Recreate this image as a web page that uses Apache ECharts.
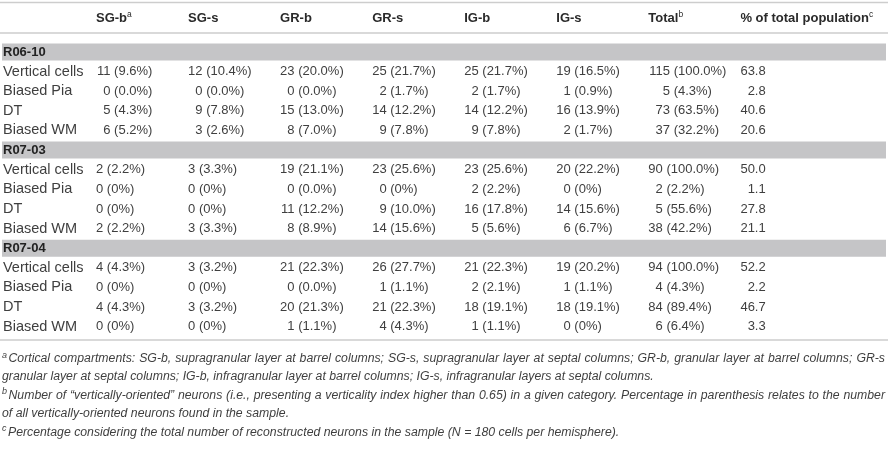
<!DOCTYPE html>
<html><head><meta charset="utf-8">
<script src="https://cdn.jsdelivr.net/npm/echarts@6/dist/echarts.min.js"></script>
<style>html,body{margin:0;padding:0;background:#fff}#c{width:888px;height:449px}</style>
</head><body><div id="c"></div>
<script>
// ---------- data ----------
const columns = ['SG-b', 'SG-s', 'GR-b', 'GR-s', 'IG-b', 'IG-s', 'Total', '% of total population'];
const columnNotes = ['a', '', '', '', '', '', 'b', 'c'];
const groups = ['R06-10', 'R07-03', 'R07-04'];
const rowLabels = ['Vertical cells', 'Biased Pia', 'DT', 'Biased WM'];

const counts_R06_10 = [
  [11, 12, 23, 25, 25, 19, 115],
  [0, 0, 0, 2, 2, 1, 5],
  [5, 9, 15, 14, 14, 16, 73],
  [6, 3, 8, 9, 9, 2, 37]
];
const shares_R06_10 = [
  ['9.6', '10.4', '20.0', '21.7', '21.7', '16.5', '100.0'],
  ['0.0', '0.0', '0.0', '1.7', '1.7', '0.9', '4.3'],
  ['4.3', '7.8', '13.0', '12.2', '12.2', '13.9', '63.5'],
  ['5.2', '2.6', '7.0', '7.8', '7.8', '1.7', '32.2']
];
const population_R06_10 = ['63.8', '2.8', '40.6', '20.6'];

const counts_R07_03 = [
  [2, 3, 19, 23, 23, 20, 90],
  [0, 0, 0, 0, 2, 0, 2],
  [0, 0, 11, 9, 16, 14, 5],
  [2, 3, 8, 14, 5, 6, 38]
];
const shares_R07_03 = [
  ['2.2', '3.3', '21.1', '25.6', '25.6', '22.2', '100.0'],
  ['0', '0', '0.0', '0', '2.2', '0', '2.2'],
  ['0', '0', '12.2', '10.0', '17.8', '15.6', '55.6'],
  ['2.2', '3.3', '8.9', '15.6', '5.6', '6.7', '42.2']
];
const population_R07_03 = ['50.0', '1.1', '27.8', '21.1'];

const counts_R07_04 = [
  [4, 3, 21, 26, 21, 19, 94],
  [0, 0, 0, 1, 2, 1, 4],
  [4, 3, 20, 21, 18, 18, 84],
  [0, 0, 1, 4, 1, 0, 6]
];
const shares_R07_04 = [
  ['4.3', '3.2', '22.3', '27.7', '22.3', '20.2', '100.0'],
  ['0', '0', '0.0', '1.1', '2.1', '1.1', '4.3'],
  ['4.3', '3.2', '21.3', '22.3', '19.1', '19.1', '89.4'],
  ['0', '0', '1.1', '4.3', '1.1', '0', '6.4']
];
const population_R07_04 = ['52.2', '2.2', '46.7', '3.3'];

const footnoteLines = [
  { sup: 'a', text: 'Cortical compartments: SG-b, supragranular layer at barrel columns; SG-s, supragranular layer at septal columns; GR-b, granular layer at barrel columns; GR-s', justify: true },
  { sup: '', text: 'granular layer at septal columns; IG-b, infragranular layer at barrel columns; IG-s, infragranular layers at septal columns.', justify: false },
  { sup: 'b', text: 'Number of \u201cvertically-oriented\u201d neurons (i.e., presenting a verticality index higher than 0.65) in a given category. Percentage in parenthesis relates to the number', justify: true },
  { sup: '', text: 'of all vertically-oriented neurons found in the sample.', justify: false },
  { sup: 'c', text: 'Percentage considering the total number of reconstructed neurons in the sample (N = 180 cells per hemisphere).', justify: false }
];

// ---------- styling ----------
const FONT = '"Liberation Sans", Arial, sans-serif';
const TXT = '#3f3f3f';
const NUM_SIZE = 13;
const LABEL_SIZE = 14.5;
const HEAD_SIZE = 13;
const BAND = '#c5c5c7';
const RULE = '#cdcdcd';

const canvas = document.createElement('canvas');
const ctx = canvas.getContext('2d');
function measure(text, size, style) {
  ctx.font = (style || '') + ' ' + size + 'px ' + FONT;
  return ctx.measureText(text).width;
}
const DIGIT_W = measure('0', NUM_SIZE);

// ---------- build table ----------
const groupData = [
  { name: groups[0], counts: counts_R06_10, shares: shares_R06_10, pop: population_R06_10 },
  { name: groups[1], counts: counts_R07_03, shares: shares_R07_03, pop: population_R07_03 },
  { name: groups[2], counts: counts_R07_04, shares: shares_R07_04, pop: population_R07_04 }
];
const yCats = [];
const cells = [];
groupData.forEach(g => {
  const bandRow = yCats.length;
  yCats.push('band|' + g.name);
  cells.push({ kind: 'band', col: 0, row: bandRow });
  const pads = columns.map((_, ci) => ci < 7
    ? Math.max.apply(null, g.counts.map(r => String(r[ci]).length))
    : Math.max.apply(null, g.pop.map(v => v.split('.')[0].length)));
  g.counts.forEach((r, ri) => {
    const row = yCats.length;
    yCats.push(g.name + '|' + rowLabels[ri]);
    r.forEach((cnt, ci) => cells.push({
      kind: 'cell', col: ci, row, lead: String(cnt), tail: ' (' + g.shares[ri][ci] + '%)', pad: pads[ci]
    }));
    const parts = g.pop[ri].split('.');
    cells.push({ kind: 'cell', col: 7, row, lead: parts[0], tail: '.' + parts[1], pad: pads[7] });
  });
});

const W = 888, H = 449;
const gridLeft = 95, colStep = 92.2;
const gridTop = 42.2, rowStep = 19.62;
const gridWidth = colStep * (columns.length - 1);
const gridHeight = rowStep * yCats.length;

function renderItem(params, api) {
  const c = cells[params.dataIndex];
  const p = api.coord([c.col, c.row]);
  if (c.kind === 'band') {
    return {
      type: 'rect',
      shape: { x: 2, y: p[1] - 8.5, width: api.getWidth() - 4, height: 17 },
      style: { fill: BAND }
    };
  }
  const anchor = p[0] + c.pad * DIGIT_W;
  const base = { fill: TXT, fontSize: NUM_SIZE, fontFamily: FONT, verticalAlign: 'middle' };
  return {
    type: 'group',
    children: [
      { type: 'text', x: anchor, y: p[1], style: Object.assign({ text: c.lead, align: 'right' }, base) },
      { type: 'text', x: anchor, y: p[1], style: Object.assign({ text: c.tail, align: 'left' }, base) }
    ]
  };
}

// ---------- footnotes ----------
const FN_SIZE = (function () {
  const w = measure(footnoteLines[0].text, 100, 'italic');
  return Math.max(10, Math.min(14, 100 * 866 / w));
})();
const fnY = [359, 377, 395.5, 414, 432.5];
const graphics = [
  { type: 'line', shape: { x1: 0, y1: 2.5, x2: W, y2: 2.5 }, style: { stroke: RULE, lineWidth: 1.5 } },
  { type: 'line', shape: { x1: 0, y1: 33, x2: W, y2: 33 }, style: { stroke: RULE, lineWidth: 1.5 } },
  { type: 'line', shape: { x1: 0, y1: 340, x2: W, y2: 340 }, style: { stroke: RULE, lineWidth: 1.5 } }
];
footnoteLines.forEach((ln, i) => {
  const y = fnY[i];
  let x = 2;
  if (ln.sup) {
    graphics.push({ type: 'text', x: x, y: y - 4, style: { text: ln.sup, fontSize: 9, fontStyle: 'italic', fontFamily: FONT, fill: TXT, verticalAlign: 'middle' } });
    x += measure(ln.sup, 9, 'italic') + 1.5;
  }
  const st = { fontSize: FN_SIZE, fontStyle: 'italic', fontFamily: FONT, fill: TXT, verticalAlign: 'middle' };
  if (ln.justify) {
    const words = ln.text.split(' ');
    const widths = words.map(w => measure(w, FN_SIZE, 'italic'));
    const total = widths.reduce((a, b) => a + b, 0);
    const space = measure(' ', FN_SIZE, 'italic');
    const gap = Math.max(space * 0.8, (W - 3 - x - total) / (words.length - 1));
    words.forEach((w, k) => {
      graphics.push({ type: 'text', x: x, y: y, style: Object.assign({ text: w }, st) });
      x += widths[k] + gap;
    });
  } else {
    graphics.push({ type: 'text', x: x, y: y, style: Object.assign({ text: ln.text }, st) });
  }
});

// ---------- chart ----------
const chart = echarts.init(document.getElementById('c'), null, { renderer: 'canvas' });
chart.setOption({
  animation: false,
  backgroundColor: '#fff',
  grid: { left: gridLeft, top: gridTop, width: gridWidth, height: gridHeight, containLabel: false },
  xAxis: {
    type: 'category',
    position: 'top',
    boundaryGap: false,
    data: columns,
    axisLine: { show: false },
    axisTick: { show: false },
    splitLine: { show: false },
    axisLabel: {
      interval: 0,
      align: 'left',
      verticalAlign: 'middle',
      margin: gridTop - 18,
      formatter: (v, i) => '{h|' + v + '}' + (columnNotes[i] ? '{s|' + columnNotes[i] + '}' : ''),
      rich: {
        h: { fontSize: HEAD_SIZE, fontWeight: 'bold', fontFamily: FONT, color: '#2a2a2a', lineHeight: 16 },
        s: { fontSize: 8.5, fontFamily: FONT, color: '#2a2a2a', verticalAlign: 'top', lineHeight: 16, padding: [0, 0, 6, 0] }
      }
    }
  },
  yAxis: {
    type: 'category',
    inverse: true,
    data: yCats,
    z: 10,
    axisLine: { show: false },
    axisTick: { show: false },
    splitLine: { show: false },
    axisLabel: {
      interval: 0,
      align: 'left',
      margin: gridLeft - 2,
      formatter: v => {
        const [a, b] = v.split('|');
        return a === 'band' ? '{b|' + b + '}' : '{n|' + b + '}';
      },
      rich: {
        b: { fontSize: 13, fontWeight: 'bold', fontFamily: FONT, color: '#222' },
        n: { fontSize: LABEL_SIZE, fontFamily: FONT, color: TXT }
      }
    }
  },
  series: [{
    type: 'custom',
    renderItem: renderItem,
    clip: false,
    z: 2,
    encode: { x: 0, y: 1 },
    data: cells.map(c => [c.col, c.row])
  }],
  graphic: graphics
});
</script>
</body></html>
